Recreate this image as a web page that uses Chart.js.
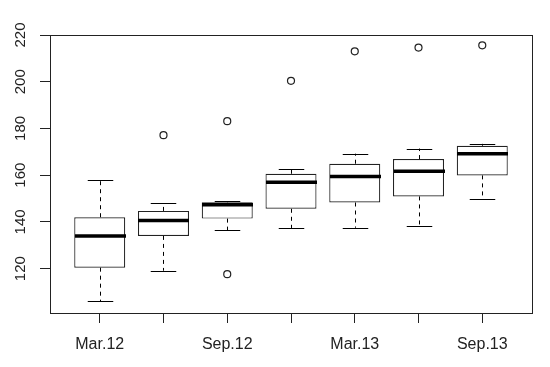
<!DOCTYPE html>
<html>
<head>
<meta charset="utf-8">
<script src="https://cdn.jsdelivr.net/npm/chart.js@4"></script>
<style>
    html, body { margin: 0; padding: 0; background: #fff; }
    #wrap { width: 550px; height: 367px; }
</style>
</head>
<body>
<div id="wrap"><canvas id="boxChart"></canvas></div>
<script>
// Quarter labels (only every other one fits under the axis)
const labels = ['Mar.12', 'Jun.12', 'Sep.12', 'Dec.12', 'Mar.13', 'Jun.13', 'Sep.13'];
const positions = [1, 2, 3, 4, 5, 6, 7];

// Five-number summaries
const whiskerLow  = [106.0, 119.1, 136.4, 137.4, 137.5, 138.3, 149.9];
const q1          = [120.4, 134.0, 141.4, 145.6, 148.3, 150.9, 159.9];
const medians     = [134.0, 140.6, 147.3, 157.0, 159.4, 161.7, 169.2];
const q3          = [142.0, 144.7, 148.4, 160.6, 164.9, 166.9, 172.6];
const whiskerHigh = [158.1, 147.9, 148.9, 162.7, 169.2, 171.4, 173.4];

// Outliers: group position and value
const outlierGroup = [2, 3, 3, 4, 5, 6, 7];
const outlierValue = [177.1, 183.1, 117.6, 200.4, 213.0, 214.6, 215.6];

const yTicks = [120, 140, 160, 180, 200, 220];

const FONT = '"Liberation Sans", Arial, sans-serif';

// Whiskers, staples, medians, rotated y labels and the plot frame
const boxPlotExtras = {
    id: 'boxPlotExtras',
    afterDatasetsDraw(chart) {
        const ctx = chart.ctx;
        const x = chart.scales.x;
        const y = chart.scales.y;
        const half = (x.getPixelForValue(1.4) - x.getPixelForValue(1)); // box half width
        const staple = half / 2;
        ctx.save();
        ctx.strokeStyle = '#000';
        positions.forEach((p, i) => {
            const cx = Math.round(x.getPixelForValue(p)) + 0.5;
            // dashed whiskers
            ctx.lineWidth = 1;
            ctx.setLineDash([4, 4]);
            ctx.beginPath();
            ctx.moveTo(cx, y.getPixelForValue(q3[i]));
            ctx.lineTo(cx, y.getPixelForValue(whiskerHigh[i]));
            ctx.moveTo(cx, y.getPixelForValue(q1[i]));
            ctx.lineTo(cx, y.getPixelForValue(whiskerLow[i]));
            ctx.stroke();
            ctx.setLineDash([]);
            // staples
            ctx.beginPath();
            const yh = Math.round(y.getPixelForValue(whiskerHigh[i])) + 0.5;
            const yl = Math.round(y.getPixelForValue(whiskerLow[i])) + 0.5;
            ctx.moveTo(cx - staple, yh);
            ctx.lineTo(cx + staple, yh);
            ctx.moveTo(cx - staple, yl);
            ctx.lineTo(cx + staple, yl);
            ctx.stroke();
            // median
            ctx.lineWidth = 3.5;
            ctx.beginPath();
            const ym = y.getPixelForValue(medians[i]);
            ctx.moveTo(cx - half, ym);
            ctx.lineTo(cx + half, ym);
            ctx.stroke();
        });
        // frame around the plot region
        const a = chart.chartArea;
        ctx.lineWidth = 1;
        ctx.strokeStyle = '#222';
        ctx.strokeRect(Math.round(a.left) + 0.5, Math.round(a.top) + 0.5,
            Math.round(a.right - a.left), Math.round(a.bottom - a.top));
        // y labels parallel to the axis
        ctx.fillStyle = '#222';
        ctx.font = '15px ' + FONT;
        ctx.textAlign = 'center';
        ctx.textBaseline = 'middle';
        yTicks.forEach(v => {
            ctx.save();
            ctx.translate(21, y.getPixelForValue(v));
            ctx.rotate(-Math.PI / 2);
            ctx.fillText(String(v), 0, 0);
            ctx.restore();
        });
        ctx.restore();
    }
};

const ctx = document.getElementById('boxChart').getContext('2d');
const boxChart = new Chart(ctx, {
    type: 'bar',
    data: {
        datasets: [{
            type: 'bar',
            label: 'IQR',
            data: positions.map((p, i) => ({ x: p, y: [q1[i], q3[i]] })),
            backgroundColor: '#fff',
            borderColor: '#222',
            borderWidth: 1.2,
            borderSkipped: false,
            categoryPercentage: 0.8,
            barPercentage: 1.0
        }, {
            type: 'scatter',
            label: 'Outliers',
            data: outlierGroup.map((g, i) => ({ x: g, y: outlierValue[i] })),
            pointStyle: 'circle',
            pointRadius: 3.5,
            pointBorderWidth: 1.2,
            borderColor: '#222',
            backgroundColor: 'rgba(0,0,0,0)'
        }]
    },
    options: {
        responsive: true,
        maintainAspectRatio: false,
        animation: false,
        layout: {
            padding: { top: 35, right: 18, left: 0, bottom: 0 }
        },
        plugins: {
            legend: { display: false },
            tooltip: { enabled: false }
        },
        scales: {
            x: {
                type: 'linear',
                min: 0.22,
                max: 7.78,
                offset: false,
                afterBuildTicks: axis => {
                    axis.ticks = positions.map(v => ({ value: v }));
                },
                afterFit: axis => { axis.height = 54; },
                grid: {
                    offset: false,
                    drawOnChartArea: false,
                    drawTicks: true,
                    tickLength: 10,
                    color: '#222'
                },
                border: { display: true, color: '#222' },
                ticks: {
                    autoSkip: false,
                    maxRotation: 0,
                    padding: 12,
                    color: '#222',
                    font: { family: FONT, size: 16 },
                    callback: v => (v % 2 === 1 ? labels[v - 1] : '')
                }
            },
            y: {
                min: 101,
                max: 220,
                afterBuildTicks: axis => {
                    axis.ticks = yTicks.map(v => ({ value: v }));
                },
                afterFit: axis => { axis.width = 50; },
                grid: {
                    drawOnChartArea: false,
                    drawTicks: true,
                    tickLength: 10,
                    color: '#222'
                },
                border: { display: true, color: '#222' },
                ticks: { display: false }
            }
        }
    },
    plugins: [boxPlotExtras]
});
</script>
</body>
</html>
